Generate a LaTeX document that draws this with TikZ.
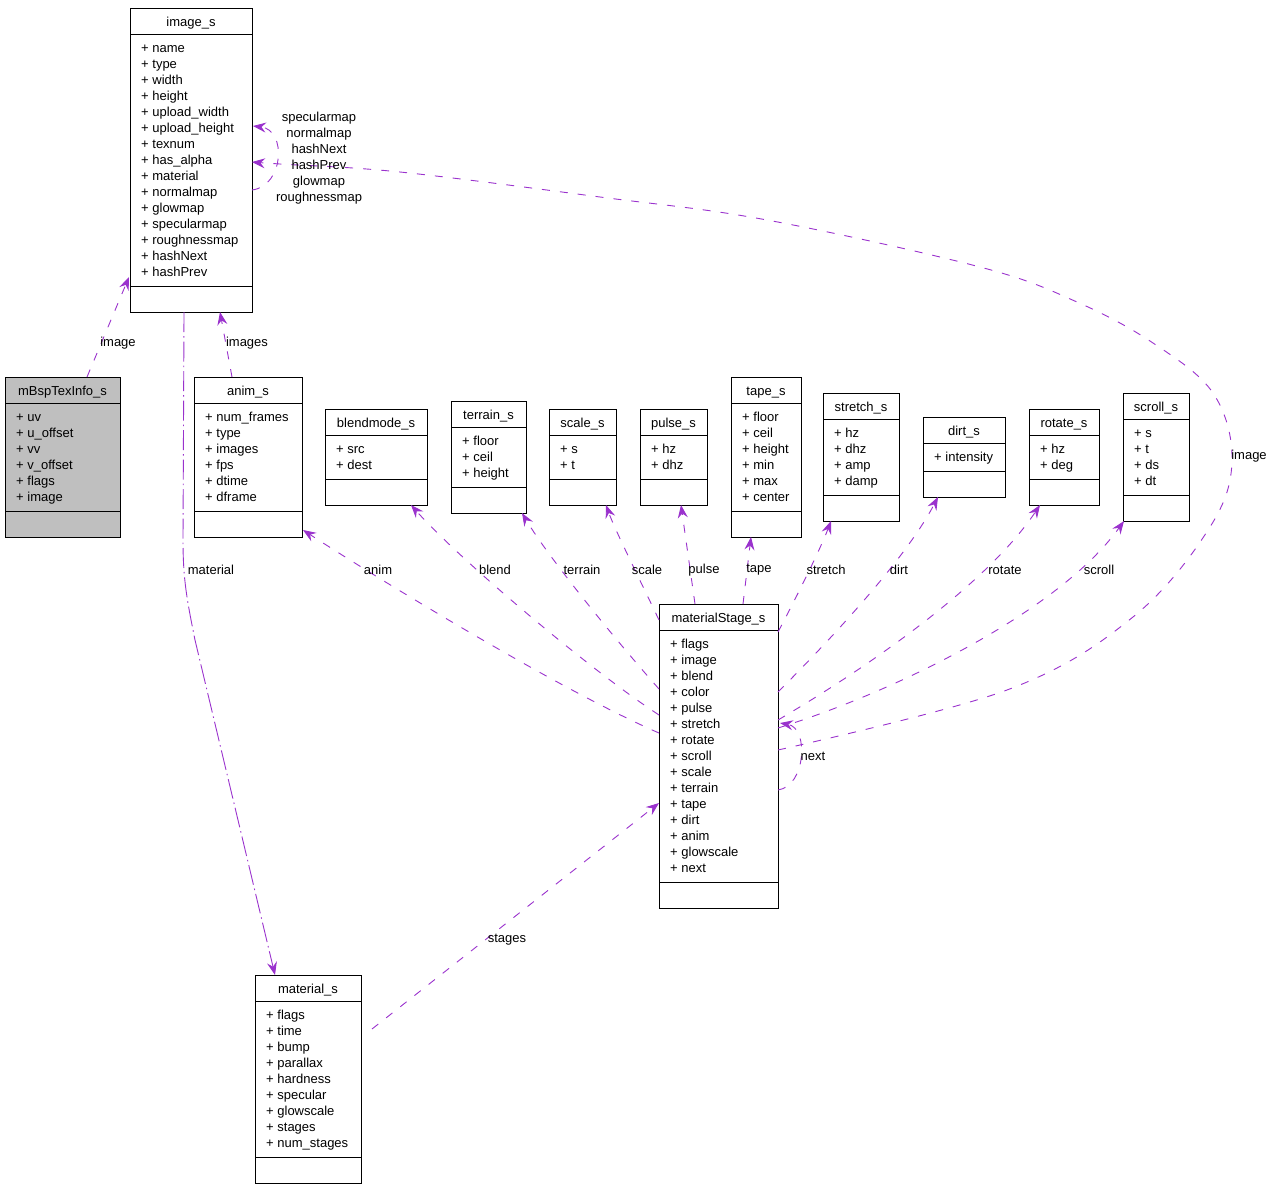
\documentclass[tikz,border=0pt]{standalone}
\usepackage{fontspec}
\setmainfont{Liberation Sans}
\usetikzlibrary{arrows.meta,calc}
\definecolor{edgec}{HTML}{9A32CD}
\definecolor{boxgrey}{HTML}{BFBFBF}
\tikzset{
  umlbox/.style={draw=black, line width=0.9pt, inner sep=0pt, outer sep=0pt, rectangle},
  boxtitle/.style={font=\fontsize{13}{16}\selectfont, inner sep=0pt, anchor=base},
  boxattr/.style={font=\fontsize{13}{16}\selectfont, inner sep=0pt, anchor=base west},
  uses/.style={draw=edgec, line width=0.9pt, dash pattern=on 8pt off 10pt,
    -{Stealth[length=13pt,width=10pt,inset=4.5pt,fill=edgec]}},
  matdash/.style={dash pattern=on 20pt off 4pt on 1.5pt off 4pt},
  lbl/.style={font=\fontsize{13}{16}\selectfont, inner sep=0pt},
}
\newcommand\classbox[8][white]{%
  \pgfmathsetmacro\bh{64+16*#6}%
  \pgfmathsetmacro\bw{#5-#3}%
  \node[umlbox, fill=#1, minimum width=\bw pt, minimum height=\bh pt, anchor=north west] (#2) at (#3,#4) {};
  \draw[line width=0.9pt] ($(#2.north west)+(0,26)$) -- ($(#2.north east)+(0,26)$);
  \draw[line width=0.9pt] ($(#2.south west)+(0,-26)$) -- ($(#2.south east)+(0,-26)$);
  \node[boxtitle] (#2-t) at ($(#2.north)+(0,18)$) {#7};
  \foreach \a [count=\i] in {#8} {\node[boxattr] (#2-a\i) at ($(#2.north west)+(11,{28+16*\i})$) {+ \a};}
}
\begin{document}
\begin{tikzpicture}[x=1pt,y=-1pt]
\useasboundingbox (0,0) rectangle (1275,1189);
% boxes
\classbox{img}{130}{8}{252}{15}{image\_s}{name,type,width,height,upload\_width,upload\_height,texnum,has\_alpha,material,normalmap,glowmap,specularmap,roughnessmap,hashNext,hashPrev}
\classbox[boxgrey]{mbsp}{5}{377}{120}{6}{mBspTexInfo\_s}{uv,u\_offset,vv,v\_offset,flags,image}
\classbox{anim}{194}{377}{302}{6}{anim\_s}{num\_frames,type,images,fps,dtime,dframe}
\classbox{blend}{325}{409}{427}{2}{blendmode\_s}{src,dest}
\classbox{terr}{451}{401}{526}{3}{terrain\_s}{floor,ceil,height}
\classbox{scale}{549}{409}{616}{2}{scale\_s}{s,t}
\classbox{pulse}{640}{409}{707}{2}{pulse\_s}{hz,dhz}
\classbox{tape}{731}{377}{801}{6}{tape\_s}{floor,ceil,height,min,max,center}
\classbox{stretch}{823}{393}{899}{4}{stretch\_s}{hz,dhz,amp,damp}
\classbox{dirt}{923}{417}{1005}{1}{dirt\_s}{intensity}
\classbox{rotate}{1029}{409}{1099}{2}{rotate\_s}{hz,deg}
\classbox{scroll}{1123}{393}{1189}{4}{scroll\_s}{s,t,ds,dt}
\classbox{ms}{659}{604}{778}{15}{materialStage\_s}{flags,image,blend,color,pulse,stretch,rotate,scroll,scale,terrain,tape,dirt,anim,glowscale,next}
\classbox{mat}{255}{975}{361}{9}{material\_s}{flags,time,bump,parallax,hardness,specular,glowscale,stages,num\_stages}

% edges
\draw[uses] ($(mbsp.north west)+(82,0)$) -- ($(img.north west)+(-1,269)$);
\draw[uses] ($(anim.north west)+(38,0)$) -- ($(img.south west)+(90,0)$);
\draw[uses] ($(img.north east)+(0,182)$) .. controls (284,186) and (287,130) .. ($(img.north east)+(1,118)$);
\draw[uses,matdash] ($(img.south west)+(54,0)$) -- (183,540) .. controls (183,580) and (187,600) .. (195,640) -- ($(mat.north west)+(20,0)$);
\draw[uses] ($(mat.north east)+(11,54)$) -- ($(ms.north west)+(0,199)$);

\draw[uses] ($(ms.north west)+(0,129)$) .. controls (560,690) and (380,580) .. ($(anim.north east)+(1,153)$);
\draw[uses] ($(ms.north west)+(0,111)$) .. controls (590,670) and (460,560) .. ($(blend.south west)+(86,0)$);
\draw[uses] ($(ms.north west)+(0,85)$) .. controls (620,645) and (550,560) .. ($(terr.south west)+(71,0)$);
\draw[uses] ($(ms.north west)+(0,16)$) .. controls (640,580) and (615,530) .. ($(scale.south west)+(57,0)$);
\draw[uses] ($(ms.north west)+(36,0)$) -- ($(pulse.south west)+(41,0)$);
\draw[uses] ($(ms.north west)+(84,0)$) -- ($(tape.south west)+(20,0)$);
\draw[uses] ($(ms.north east)+(0,28)$) .. controls (795,600) and (820,550) .. ($(stretch.south west)+(8,0)$);
\draw[uses] ($(ms.north east)+(0,88)$) .. controls (830,640) and (905,560) .. ($(dirt.south west)+(15,0)$);
\draw[uses] ($(ms.north east)+(0,116)$) .. controls (880,660) and (990,580) .. ($(rotate.south west)+(11,0)$);
\draw[uses] ($(ms.north east)+(0,124)$) .. controls (900,690) and (1060,610) .. ($(scroll.south west)+(1,0)$);

\coordinate (msimg) at ($(ms.north east)+(0,146)$);
\coordinate (imgin) at ($(img.north east)+(0,154)$);
\draw[uses] plot[smooth, tension=0.6] coordinates {(msimg) (1007,690) (1133,617) (1210,527) (1232,460) (1213,393) (1153,343) (1077,302) (980,267) (767,220) (600,197) (400,172) (280,164) (imgin)};

\draw[uses] ($(ms.north east)+(0,186)$) .. controls (806,786) and (809,728) .. ($(ms.north east)+(2,119)$);

% labels
\node[lbl] (l-image1) at (118,343) {image};
\node[lbl] (l-images) at (247,343) {images};
\node[lbl, align=center] (l-imgloop) at (319,158) {specularmap\\normalmap\\hashNext\\hashPrev\\glowmap\\roughnessmap};
\node[lbl] (l-material) at (211,570) {material};
\node[lbl] (l-anim) at (378,570) {anim};
\node[lbl] (l-blend) at (495,570) {blend};
\node[lbl] (l-terrain) at (582,570) {terrain};
\node[lbl] (l-scale) at (647,570) {scale};
\node[lbl] (l-pulse) at (704,570) {pulse};
\node[lbl] (l-tape) at (759,570) {tape};
\node[lbl] (l-stretch) at (826,570) {stretch};
\node[lbl] (l-dirt) at (899,570) {dirt};
\node[lbl] (l-rotate) at (1005,570) {rotate};
\node[lbl] (l-scroll) at (1099,570) {scroll};
\node[lbl] (l-image2) at (1249,456) {image};
\node[lbl] (l-stages) at (507,940) {stages};
\node[lbl] (l-next) at (813,756) {next};
\end{tikzpicture}
\end{document}
